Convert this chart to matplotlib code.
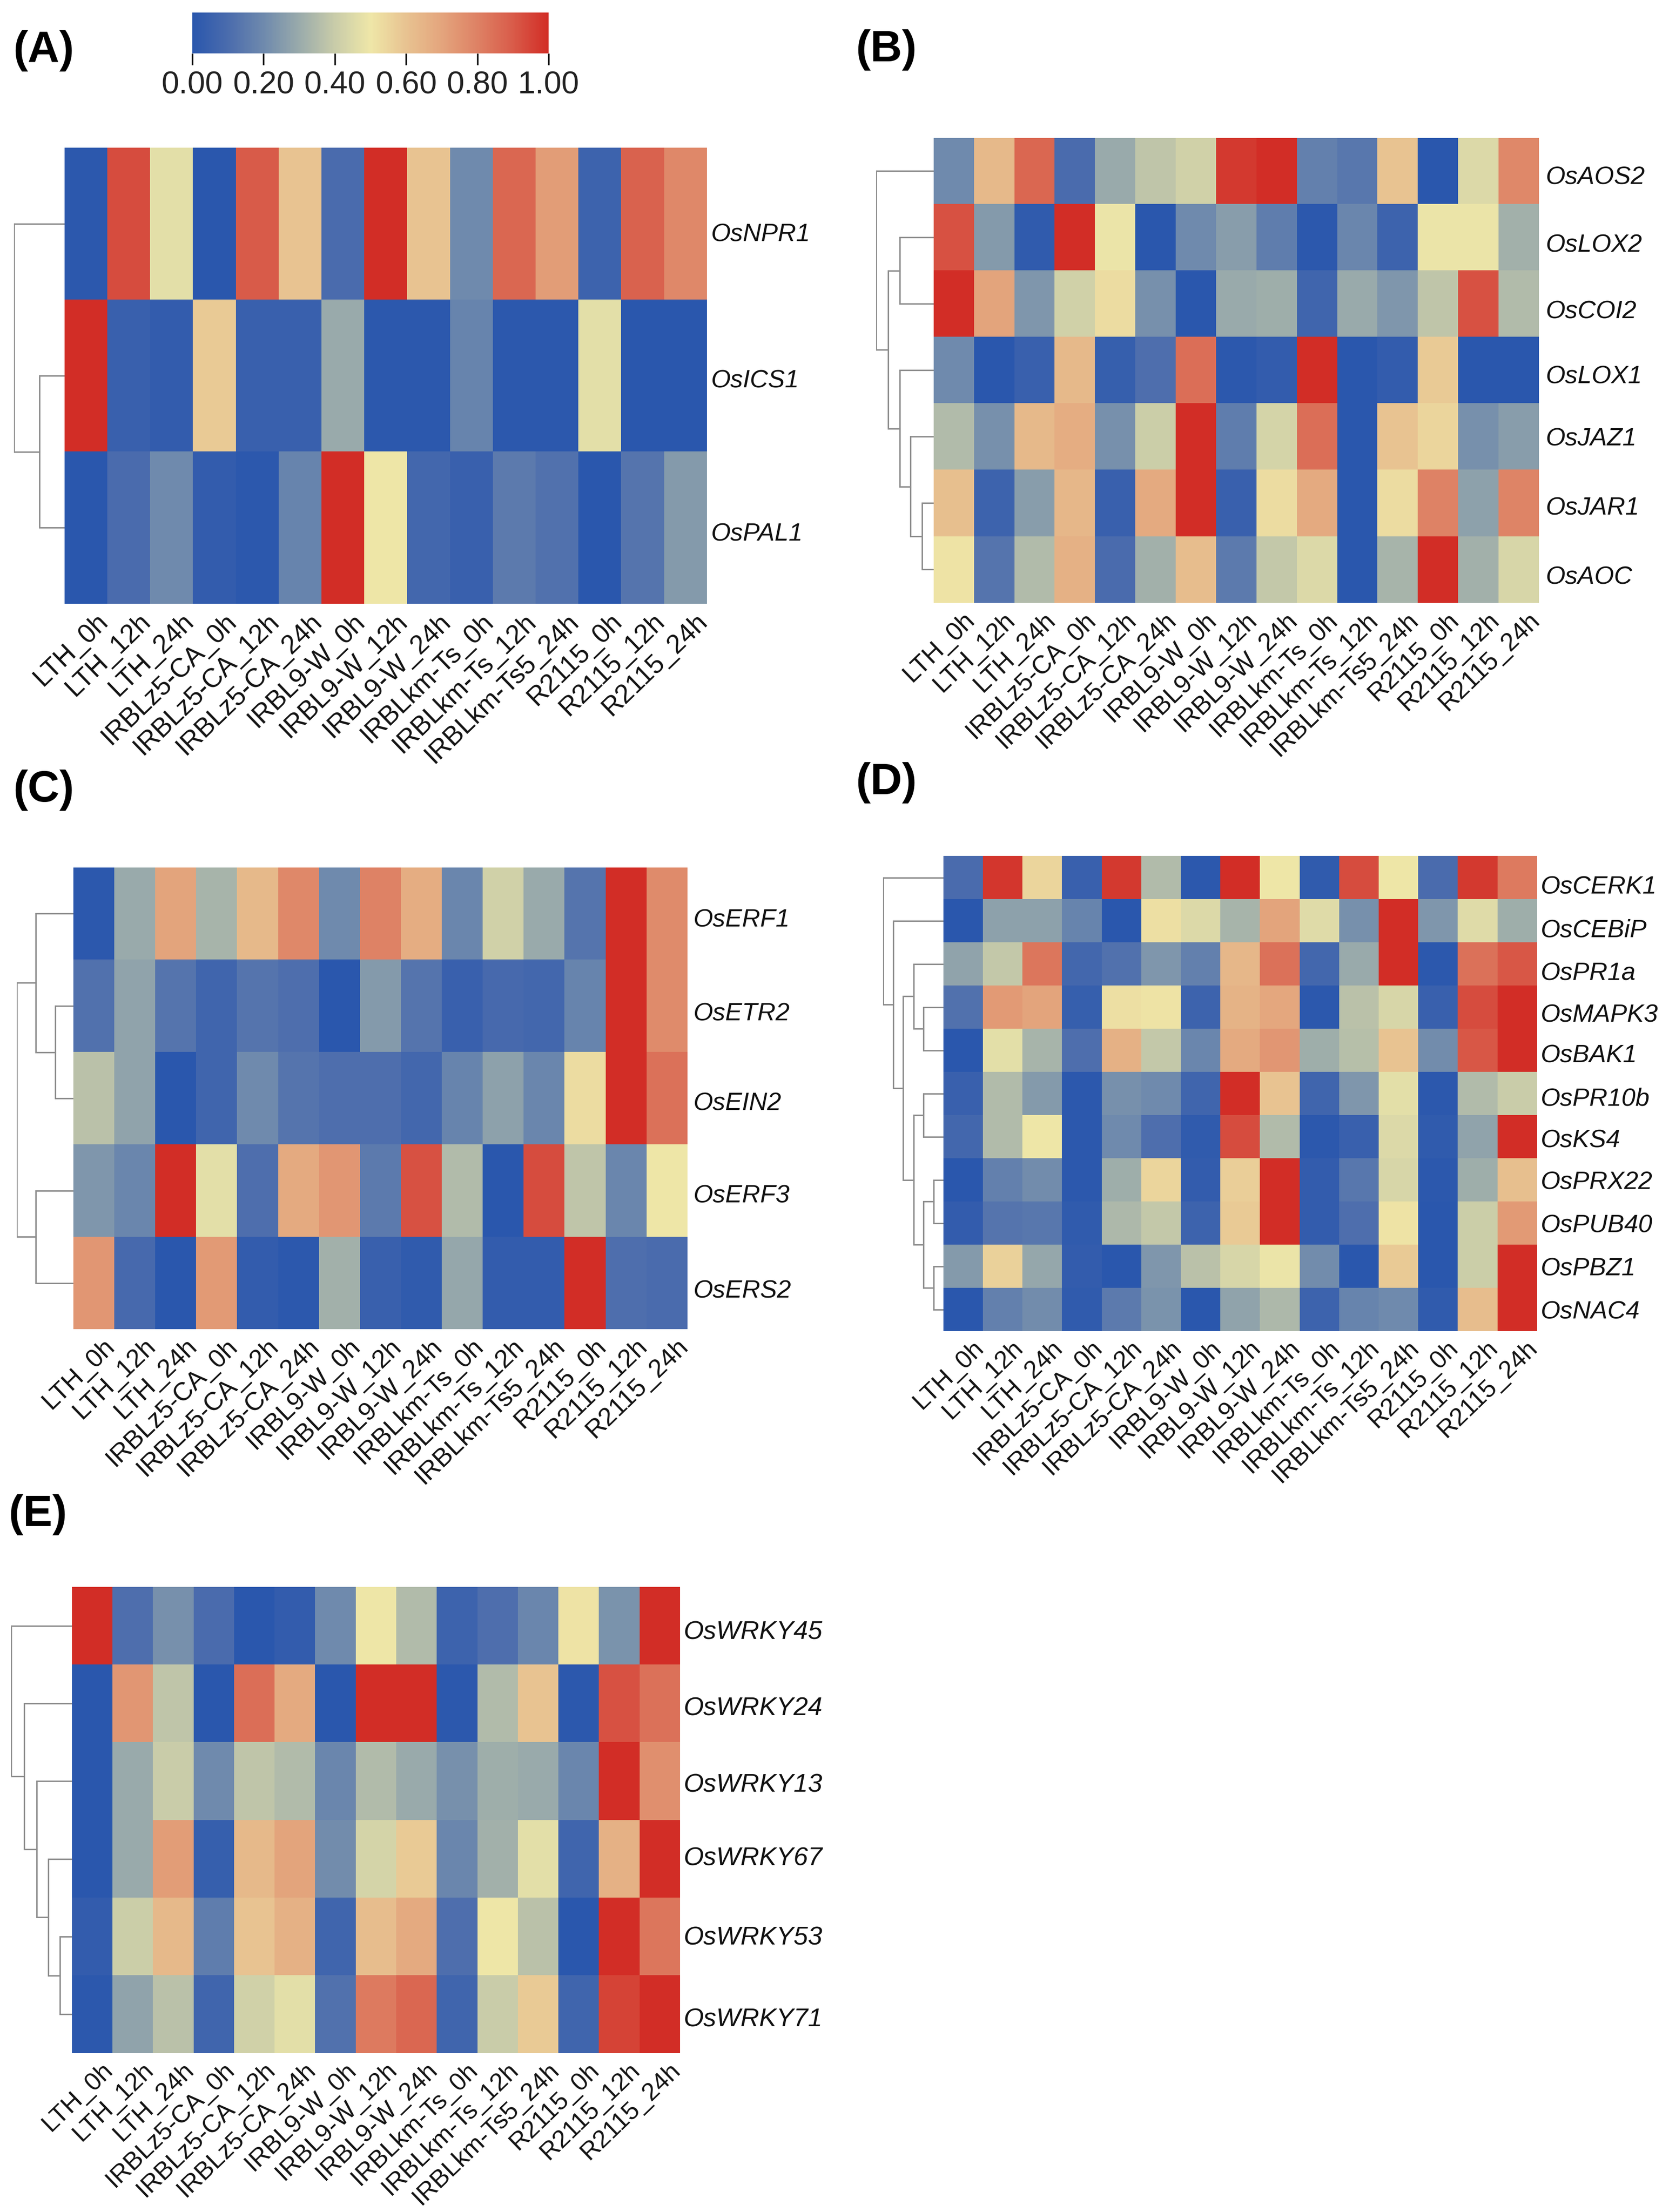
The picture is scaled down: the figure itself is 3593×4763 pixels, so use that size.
import numpy as np
import matplotlib
matplotlib.use("Agg")
import matplotlib.pyplot as plt
from matplotlib.colors import LinearSegmentedColormap

plt.rcParams['font.family'] = ['Liberation Sans', 'DejaVu Sans']

W, H = 3593, 4763

samples = ['LTH_0h', 'LTH_12h', 'LTH_24h', 'IRBLz5-CA_0h', 'IRBLz5-CA_12h', 'IRBLz5-CA_24h',
           'IRBL9-W_0h', 'IRBL9-W_12h', 'IRBL9-W_24h', 'IRBLkm-Ts_0h', 'IRBLkm-Ts_12h',
           'IRBLkm-Ts5_24h', 'R2115_0h', 'R2115_12h', 'R2115_24h']

genes_a = ['OsNPR1', 'OsICS1', 'OsPAL1']
vals_a = [
    [.01, .93, .47, 0, .90, .60, .10, 1.0, .60, .20, .87, .72, .06, .88, .78],
    [1.0, .05, .03, .58, .05, .05, .30, .01, .01, .18, .01, .01, .47, 0, 0],
    [0, .10, .20, .03, .01, .18, 1.0, .50, .08, .05, .15, .12, 0, .13, .25],
]
genes_b = ['OsAOS2', 'OsLOX2', 'OsCOI2', 'OsLOX1', 'OsJAZ1', 'OsJAR1', 'OsAOC']
vals_b = [
    [.20, .63, .87, .10, .30, .38, .42, .97, 1.0, .17, .14, .60, 0, .45, .78],
    [.92, .25, .02, 1.0, .49, 0, .20, .26, .16, .01, .19, .06, .49, .49, .32],
    [1.0, .70, .24, .42, .53, .22, 0, .30, .31, .07, .30, .24, .38, .92, .35],
    [.20, 0, .05, .63, .04, .11, .85, .01, .03, 1.0, 0, .03, .58, 0, 0],
    [.35, .22, .63, .67, .22, .41, 1.0, .16, .43, .85, 0, .60, .55, .22, .26],
    [.61, .06, .26, .64, .05, .68, 1.0, .05, .53, .68, 0, .53, .80, .27, .79],
    [.51, .13, .35, .66, .10, .32, .62, .15, .39, .45, 0, .33, 1.0, .32, .44],
]
genes_c = ['OsERF1', 'OsETR2', 'OsEIN2', 'OsERF3', 'OsERS2']
vals_c = [
    [.01, .30, .70, .33, .63, .78, .20, .80, .67, .19, .42, .30, .13, 1.0, .77],
    [.12, .28, .13, .07, .13, .11, 0, .25, .13, .05, .09, .08, .18, 1.0, .77],
    [.37, .28, 0, .07, .20, .13, .11, .11, .08, .18, .27, .19, .53, 1.0, .84],
    [.24, .19, 1.0, .47, .11, .68, .74, .15, .92, .35, 0, .93, .38, .19, .50],
    [.74, .09, 0, .73, .03, .01, .32, .05, .02, .29, .03, .03, 1.0, .11, .10],
]
genes_d = ['OsCERK1', 'OsCEBiP', 'OsPR1a', 'OsMAPK3', 'OsBAK1', 'OsPR10b', 'OsKS4',
           'OsPRX22', 'OsPUB40', 'OsPBZ1', 'OsNAC4']
vals_d = [
    [.10, .98, .55, .05, .97, .35, .01, 1.0, .50, .02, .93, .50, .10, .97, .82],
    [0, .27, .27, .18, 0, .52, .45, .33, .70, .46, .22, 1.0, .24, .46, .31],
    [.28, .39, .83, .08, .12, .24, .17, .64, .84, .08, .30, 1.0, .01, .84, .91],
    [.12, .73, .70, .04, .52, .51, .06, .65, .69, .01, .37, .44, .05, .93, 1.0],
    [0, .47, .33, .11, .66, .39, .19, .68, .74, .31, .36, .60, .21, .91, 1.0],
    [.05, .35, .25, .01, .22, .20, .07, 1.0, .60, .07, .24, .47, .01, .35, .40],
    [.08, .35, .50, .01, .20, .11, .02, .93, .35, .01, .05, .45, .02, .28, 1.0],
    [0, .17, .21, .01, .31, .55, .03, .57, 1.0, .03, .14, .44, .01, .31, .61],
    [.03, .13, .14, .02, .34, .39, .06, .58, 1.0, .03, .11, .51, 0, .41, .73],
    [.25, .56, .29, .03, 0, .24, .37, .44, .49, .21, 0, .58, 0, .41, 1.0],
    [0, .17, .21, .02, .15, .23, 0, .28, .34, .06, .18, .20, .02, .62, 1.0],
]
genes_e = ['OsWRKY45', 'OsWRKY24', 'OsWRKY13', 'OsWRKY67', 'OsWRKY53', 'OsWRKY71']
vals_e = [
    [1.0, .11, .22, .10, 0, .03, .20, .50, .35, .06, .11, .19, .51, .23, 1.0],
    [0, .74, .38, 0, .85, .68, 0, 1.0, 1.0, .01, .35, .60, .01, .92, .84],
    [0, .30, .40, .20, .38, .35, .19, .35, .30, .22, .31, .30, .19, 1.0, .76],
    [0, .30, .72, .04, .63, .70, .21, .43, .58, .19, .32, .47, .07, .66, 1.0],
    [.03, .41, .63, .16, .60, .66, .07, .62, .68, .11, .50, .37, 0, 1.0, .83],
    [.01, .28, .37, .07, .42, .47, .12, .82, .87, .07, .40, .58, .07, .95, 1.0],
]

# dendrograms: (height, child, child), a child is a row number or another merge
tree_a = (1.0, 0, (.50, 1, 2))
tree_b = (1.0, 0, (.79, (.59, 1, 2), (.59, 3, (.40, 4, (.20, 5, 6)))))
tree_c = (1.0, (.66, 0, (.32, 1, 2)), (.66, 3, 4))
tree_d = (1.0, 0, (.83, 1, (.67, (.49, 2, (.33, 3, 4)),
                            (.49, (.33, 5, 6), (.33, (.16, 7, 8), (.16, 9, 10))))))
tree_e = (1.0, 0, (.79, 1, (.58, 2, (.39, 3, (.195, 4, 5)))))

# gene labels sit a little off their row centres in the original, in pixels
nudge_a = [18, 6, 9]
nudge_b = [9, 12, 12, 9, 0, 6, 12]
nudge_c = [9, 12, 6, 6, 12]
nudge_d = [15, 15, 15, 12, 6, 6, 3, 0, 0, 0, 0]
nudge_e = [9, 6, 3, -6, -3, 6]

cmap = LinearSegmentedColormap.from_list('heat', ['#2a57ad', '#4b6cad', '#6f8aad', '#9aabab', '#c9cca9',
                                                  '#efe7a8', '#e8c391', '#e4a57d', '#de8265',
                                                  '#d95c4a', '#d22d26'])


def px_axes(x0, y0, x1, y1):
    return fig.add_axes([x0 / W, 1 - y1 / H, (x1 - x0) / W, (y1 - y0) / H])


def draw_tree(ax, node):
    # returns the row position of a node
    if not isinstance(node, tuple):
        return node, 0
    h, a, b = node
    ya, ha = draw_tree(ax, a)
    yb, hb = draw_tree(ax, b)
    ax.plot([ha, h, h, hb], [ya, ya, yb, yb], color='#8c8c8c', lw=2.2, solid_joinstyle='miter')
    return (ya + yb) / 2, h


def panel(letter, lx, ly, genes, vals, tree, nudge, box, root_x, gene_size=39, gene_pad=6, sample_size=39.5):
    x0, y0, x1, y1 = box
    row_h = (y1 - y0) / len(genes)
    ax = px_axes(x0, y0, x1, y1)
    ax.imshow(np.array(vals), cmap=cmap, vmin=0, vmax=1, aspect='auto', interpolation='nearest')
    for s in ax.spines.values():
        s.set_visible(False)
    ax.yaxis.tick_right()
    ax.set_yticks(np.arange(len(genes)) + np.array(nudge) / row_h)
    ax.set_yticklabels(genes, fontsize=gene_size, style='italic', color='#111111')
    ax.set_ylim(len(genes) - 0.5, -0.5)
    ax.set_xticks(np.arange(len(samples)) + 0.22)
    ax.set_xticklabels(samples, fontsize=sample_size, rotation=44, ha='right', va='top',
                       rotation_mode='anchor', color='#111111')
    ax.tick_params(length=0, pad=8)
    ax.tick_params(axis='y', pad=gene_pad)

    den = px_axes(root_x, y0, x0, y1)
    den.set_xlim(1.0, 0)
    den.set_ylim(len(genes) - 0.5, -0.5)
    den.axis('off')
    draw_tree(den, tree)

    fig.text(lx / W, 1 - ly / H, letter, fontsize=68, fontweight='bold', ha='left', va='center')


fig = plt.figure(figsize=(W / 100, H / 100), dpi=100)

panel('(A)', 28, 110, genes_a, vals_a, tree_a, nudge_a, (139, 318, 1522, 1300), 30, sample_size=41)
panel('(B)', 1842, 108, genes_b, vals_b, tree_b, nudge_b, (2010, 297, 3313, 1298), 1886, gene_pad=10)
panel('(C)', 28, 1701, genes_c, vals_c, tree_c, nudge_c, (158, 1868, 1480, 2862), 36, gene_pad=9, sample_size=40)
panel('(D)', 1842, 1686, genes_d, vals_d, tree_d, nudge_d, (2031, 1843, 3308, 2866), 1901, sample_size=39)
panel('(E)', 18, 3262, genes_e, vals_e, tree_e, nudge_e, (155, 3417, 1464, 4421), 24, gene_size=40, sample_size=39)

cax = px_axes(414, 27, 1181, 115)
sm = plt.cm.ScalarMappable(cmap=cmap, norm=plt.Normalize(0, 1))
cb = fig.colorbar(sm, cax=cax, orientation='horizontal', ticks=[0, .2, .4, .6, .8, 1.0])
cb.ax.set_xticklabels(['0.00', '0.20', '0.40', '0.60', '0.80', '1.00'], fontsize=49, color='#222222')
cb.ax.tick_params(length=18, width=2.5, color='#111111', pad=8)
cb.outline.set_visible(False)

fig.savefig('out.png', dpi=100)
